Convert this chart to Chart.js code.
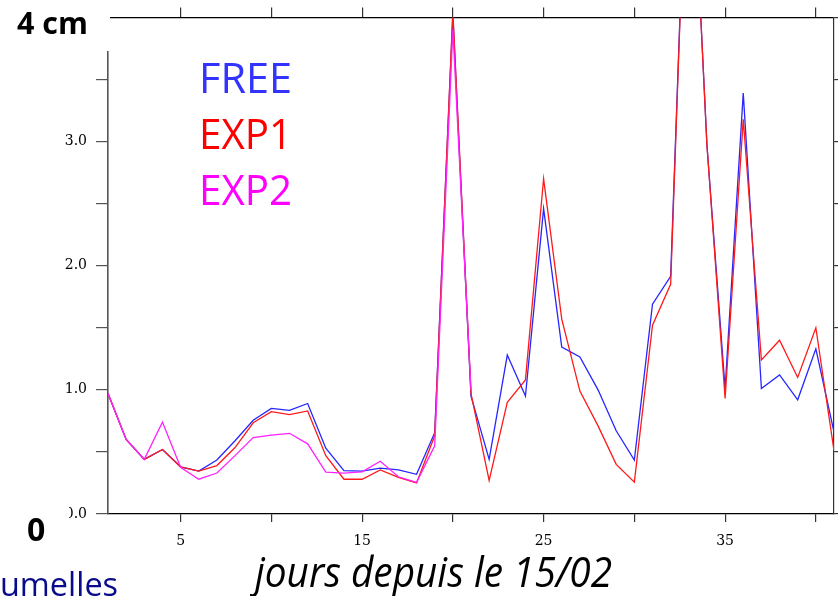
<!DOCTYPE html>
<html>
<head>
<meta charset="utf-8">
<script src="https://cdn.jsdelivr.net/npm/chart.js@4/dist/chart.umd.min.js"></script>
<style>
  body { margin: 0; background: #fff; }
  canvas { display: block; }
</style>
</head>
<body>
<canvas id="snowChart" width="838" height="596"></canvas>
<script>
// days since 15/02
const days = [1, 2, 3, 4, 5, 6, 7, 8, 9, 10, 11, 12, 13, 14, 15, 16, 17, 18, 19, 20, 21,
              22, 23, 24, 25, 26, 27, 28, 29, 30, 31, 32, 33, 34, 35, 36, 37, 38, 39, 40, 41];

const freeValues = [0.97, 0.60, 0.44, 0.52, 0.38, 0.345, 0.435, 0.59, 0.755, 0.85, 0.835,
                    0.89, 0.53, 0.35, 0.345, 0.37, 0.355, 0.32, 0.655, 4.02, 0.95,
                    0.44, 1.28, 0.95, 2.46, 1.345, 1.265, 1.0, 0.67, 0.435, 1.69,
                    1.915, 6.0, 2.97, 1.01, 3.39, 1.01, 1.12, 0.92, 1.33, 0.66];

const exp1Values = [0.97, 0.60, 0.44, 0.52, 0.38, 0.345, 0.39, 0.535, 0.735, 0.825, 0.80,
                    0.83, 0.47, 0.28, 0.28, 0.355, 0.295, 0.25, 0.63, 4.05, 0.97,
                    0.27, 0.90, 1.08, 2.70, 1.57, 0.99, 0.71, 0.40, 0.257, 1.52,
                    1.85, 6.0, 2.97, 0.93, 3.18, 1.24, 1.40, 1.10, 1.50, 0.51];

// EXP2 stops after day 21
const exp2Values = [0.97, 0.60, 0.44, 0.74, 0.376, 0.28, 0.33, 0.47, 0.615, 0.636, 0.65,
                    0.565, 0.337, 0.33, 0.34, 0.425, 0.30, 0.255, 0.55, 3.9, 1.0];

const xTickValues = [5, 10, 15, 20, 25, 30, 35, 40];
const xTickLabels = ['5', '', '15', '', '25', '', '35', ''];
const yTickLabels = ['0.0', '1.0', '2.0', '3.0'];

const seriesNames = ['FREE', 'EXP1', 'EXP2'];
const seriesColors = ['#2626ff', '#ff1a1a', '#ff22ff'];
const legendColors = ['#3333ff', '#ff0000', '#ff00ff'];

function toPoints(values) {
    return values.map((v, i) => ({ x: days[i], y: v }));
}

// fixed x ticks every 5 days, on both top and bottom axes
function setDayTicks(scale) {
    scale.ticks = xTickValues.map(v => ({ value: v }));
}

// texts laid over the chart (legend, units, axis title)
const overlayText = {
    id: 'overlayText',
    afterDraw(chart) {
        const { ctx } = chart;
        ctx.save();
        // white boxes that hide the corners of the left axis
        ctx.fillStyle = '#fff';
        ctx.fillRect(0, 0, 110, 51);
        ctx.fillRect(0, 502, 69, 44);

        ctx.fillStyle = '#000';
        ctx.textAlign = 'left';
        ctx.textBaseline = 'alphabetic';
        ctx.font = 'bold 31px "Open Sans"';
        ctx.fillText('4 cm', 17, 34, 71);
        ctx.font = 'bold 32px "Open Sans"';
        ctx.fillText('0', 27, 541);

        ctx.font = 'italic 42px "Open Sans"';
        ctx.fillText('jours depuis le 15/02', 255, 587, 357);

        ctx.fillStyle = '#0a0a8c';
        ctx.font = '33px "Open Sans"';
        ctx.fillText('umelles', 0, 596, 118);

        ctx.font = '42px "Open Sans"';
        for (let i = 0; i < seriesNames.length; i++) {
            ctx.fillStyle = legendColors[i];
            ctx.fillText(seriesNames[i], 199, 93 + i * 56, 93);
        }
        ctx.restore();
    }
};

const tickFont = { family: '"DejaVu Serif"', size: 14 };

const chart = new Chart(document.getElementById('snowChart'), {
    type: 'line',
    data: {
        datasets: [
            { label: 'FREE', data: toPoints(freeValues), borderColor: seriesColors[0], order: 2 },
            { label: 'EXP1', data: toPoints(exp1Values), borderColor: seriesColors[1], order: 1 },
            { label: 'EXP2', data: toPoints(exp2Values), borderColor: seriesColors[2], order: 0 }
        ]
    },
    options: {
        responsive: false,
        animation: false,
        devicePixelRatio: 1,
        layout: { padding: 0 },
        datasets: {
            line: { borderWidth: 1.3, pointRadius: 0, tension: 0, fill: false, clip: 0 }
        },
        plugins: {
            legend: { display: false },
            tooltip: { enabled: false }
        },
        scales: {
            x: {
                type: 'linear',
                position: 'bottom',
                min: 1,
                max: 41,
                afterBuildTicks: setDayTicks,
                afterFit(scale) { scale.height = 82; },
                border: { display: true, color: '#000', width: 1.2 },
                grid: { drawOnChartArea: false, drawTicks: true, tickLength: 8, color: '#333', lineWidth: 1.2 },
                ticks: {
                    color: '#000',
                    font: tickFont,
                    padding: 11,
                    maxRotation: 0,
                    callback: (v, i) => xTickLabels[i]
                }
            },
            x2: {
                type: 'linear',
                position: 'top',
                min: 1,
                max: 41,
                afterBuildTicks: setDayTicks,
                afterFit(scale) { scale.height = 10; },
                border: { display: true, color: '#000', width: 1.2 },
                grid: { drawOnChartArea: false, drawTicks: true, tickLength: 10, color: '#333', lineWidth: 1.2 },
                ticks: { display: false }
            },
            y: {
                position: 'left',
                min: 0,
                max: 4,
                afterFit(scale) { scale.width = 108; },
                border: { display: true, color: '#555', width: 1.6 },
                grid: { drawOnChartArea: false, drawTicks: true, tickLength: 12, color: '#555', lineWidth: 1.2 },
                ticks: {
                    stepSize: 0.5,
                    color: '#000',
                    font: tickFont,
                    padding: 9,
                    callback: v => (Number.isInteger(v) && v < yTickLabels.length) ? yTickLabels[v] : ''
                }
            },
            y2: {
                position: 'right',
                min: 0,
                max: 4,
                afterFit(scale) { scale.width = 4; },
                border: { display: true, color: '#333', width: 1.2 },
                grid: { drawOnChartArea: false, drawTicks: true, tickLength: 4, color: '#333', lineWidth: 1.2 },
                ticks: { stepSize: 0.5, display: false }
            }
        }
    },
    plugins: [overlayText]
});
</script>
</body>
</html>
